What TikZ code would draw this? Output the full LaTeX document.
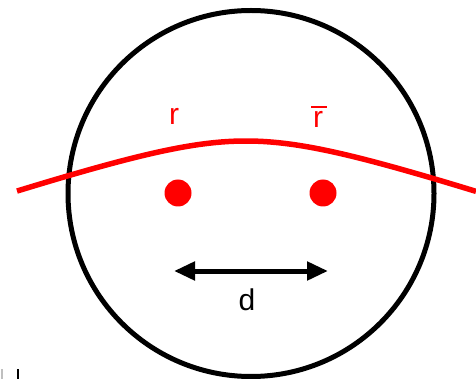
\documentclass[tikz,border=0pt]{standalone}
\usepackage{fontspec}
\setmainfont{Liberation Sans}
\usetikzlibrary{arrows.meta}
\definecolor{myred}{RGB}{255,0,0}
\tikzset{
  ring/.style={line width=5pt, draw=black},
  beam/.style={line width=5.5pt, draw=myred, line cap=butt},
  charge/.style={circle, fill=myred, inner sep=0pt, minimum size=27pt},
  lbl/.style={font=\fontsize{30}{36}\selectfont, inner sep=0pt, anchor=base},
  dist/.style={line width=5pt, {Triangle[length=21pt,width=18pt]}-{Triangle[length=21pt,width=18pt]}}
}
\begin{document}
\begin{tikzpicture}[x=1pt,y=-1pt]
\useasboundingbox (0,0) rectangle (476,379);
\node[circle, ring, minimum size=366pt, inner sep=0pt] (ring) at (251,193.5) {};
\draw[beam] plot[domain=17:476, samples=120, smooth] (\x, {141+33.4*(sqrt(((\x-246)/100)^2+1)-1)});
\node[charge] (q1) at (178,193) {};
\node[charge] (q2) at (323,193) {};
\node[lbl, text=myred] (r1) at (174,125) {r};
\node[lbl, text=myred] (r2) at (318,128) {r};
\draw[line width=2pt, myred] (311,107) -- (327,107);
\coordinate (aL) at (174,271);
\coordinate (aR) at (328,271);
\draw[dist] (aL) -- (aR);
\node[lbl] (d) at (247,310) {d};
\draw[line width=2.2pt, black] (18,369) -- (18,379);
\draw[line width=2pt, black!25] (1.5,369) -- (1.5,379);
\end{tikzpicture}
\end{document}
